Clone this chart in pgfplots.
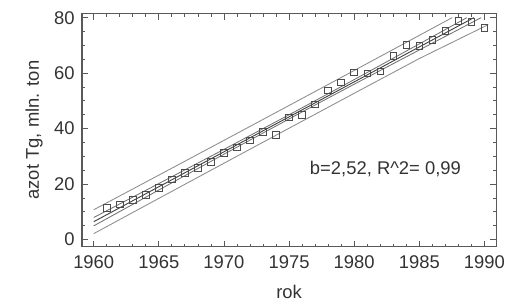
\documentclass[border=0pt]{standalone}
\usepackage{pgfplots}
\pgfplotsset{compat=1.18}
\usepackage{fontspec}
\setmainfont{Liberation Sans}
\begin{document}
\fontsize{14}{16.8}\selectfont
\def\px{0.75pt}
\begin{tikzpicture}
\begin{axis}[
  scale only axis,
  width=420*\px, height=236*\px,
  xmin=1959.1, xmax=1990.9,
  ymin=-2.5, ymax=81.4,
  xtick={1960,1965,...,1990},
  ytick={0,20,...,80},
  minor x tick num=4,
  minor y tick num=3,
  tick align=inside,
  major tick length=6*\px,
  minor tick length=3*\px,
  axis line style={black!65, line width=0.8pt},
  tick style={black!65, line width=0.6pt},
  /pgf/number format/assume math mode=true,
  xticklabel={\pgfmathprintnumber[1000 sep={},fixed,precision=0]{\tick}},
  ticklabel style={text=black!80, font=\fontsize{14}{16.8}\selectfont},
  xticklabel style={yshift=-3*\px},
  yticklabel style={xshift=-1*\px},
  xlabel={rok},
  ylabel={azot Tg, mln. ton},
  label style={text=black!80, font=\fontsize{14}{16.8}\selectfont},
  xlabel style={yshift=-4*\px},
  ylabel style={yshift=-1*\px},
  clip=true,
]
% prediction bands
\addplot[black!45, line width=0.65pt] coordinates {(1960,10.74) (1965,23.23) (1970,35.76) (1975.5,49.60) (1980,60.95) (1985,73.62) (1987.52,80)};
\addplot[black!45, line width=0.65pt] coordinates {(1960,2.14) (1965,14.85) (1970,27.52) (1975.5,41.40) (1980,52.73) (1985,65.26) (1990.3,77.5)};
% confidence bands
\addplot[black!55, line width=0.65pt] coordinates {(1960,7.95) (1965,20.20) (1970,32.51) (1975.5,46.24) (1980,57.67) (1985,70.53) (1988.65,80)};
\addplot[black!55, line width=0.65pt] coordinates {(1960,4.93) (1965,17.88) (1970,30.77) (1975.5,44.76) (1980,56.01) (1985,68.35) (1989.75,80)};
% regression
\addplot[black!75, line width=0.7pt] coordinates {(1960,6.44) (1989.19,80)};
% data
\addplot[only marks, mark=square, mark size=2.5pt, mark options={black!70, line width=0.6pt, fill=white}] coordinates {
(1961,11.4) (1962,12.6) (1963,14.3) (1964,16.1) (1965,18.6) (1966,21.7)
(1967,24.0) (1968,25.9) (1969,28.0) (1970,31.2) (1971,33.3) (1972,35.7)
(1973,38.8) (1974,37.8) (1975,44.0) (1976,45.0) (1977,48.8) (1978,53.8)
(1979,56.6) (1980,60.3) (1981,59.9) (1982,60.7) (1983,66.3) (1984,70.1)
(1985,69.9) (1986,72.0) (1987,75.2) (1988,78.8) (1989,78.4) (1990,76.4)};
\node[text=black!80, font=\fontsize{14}{16.8}\selectfont] at (axis cs:1982.4,25.3) {b=2,52, R\textasciicircum 2= 0,99};
\end{axis}
\path (current axis.south west) ++(-78*\px,-57*\px) coordinate (bbA);
\path (current axis.north east) ++(13*\px,14*\px) coordinate (bbB);
\path (bbA) rectangle (bbB);
\end{tikzpicture}
\end{document}
